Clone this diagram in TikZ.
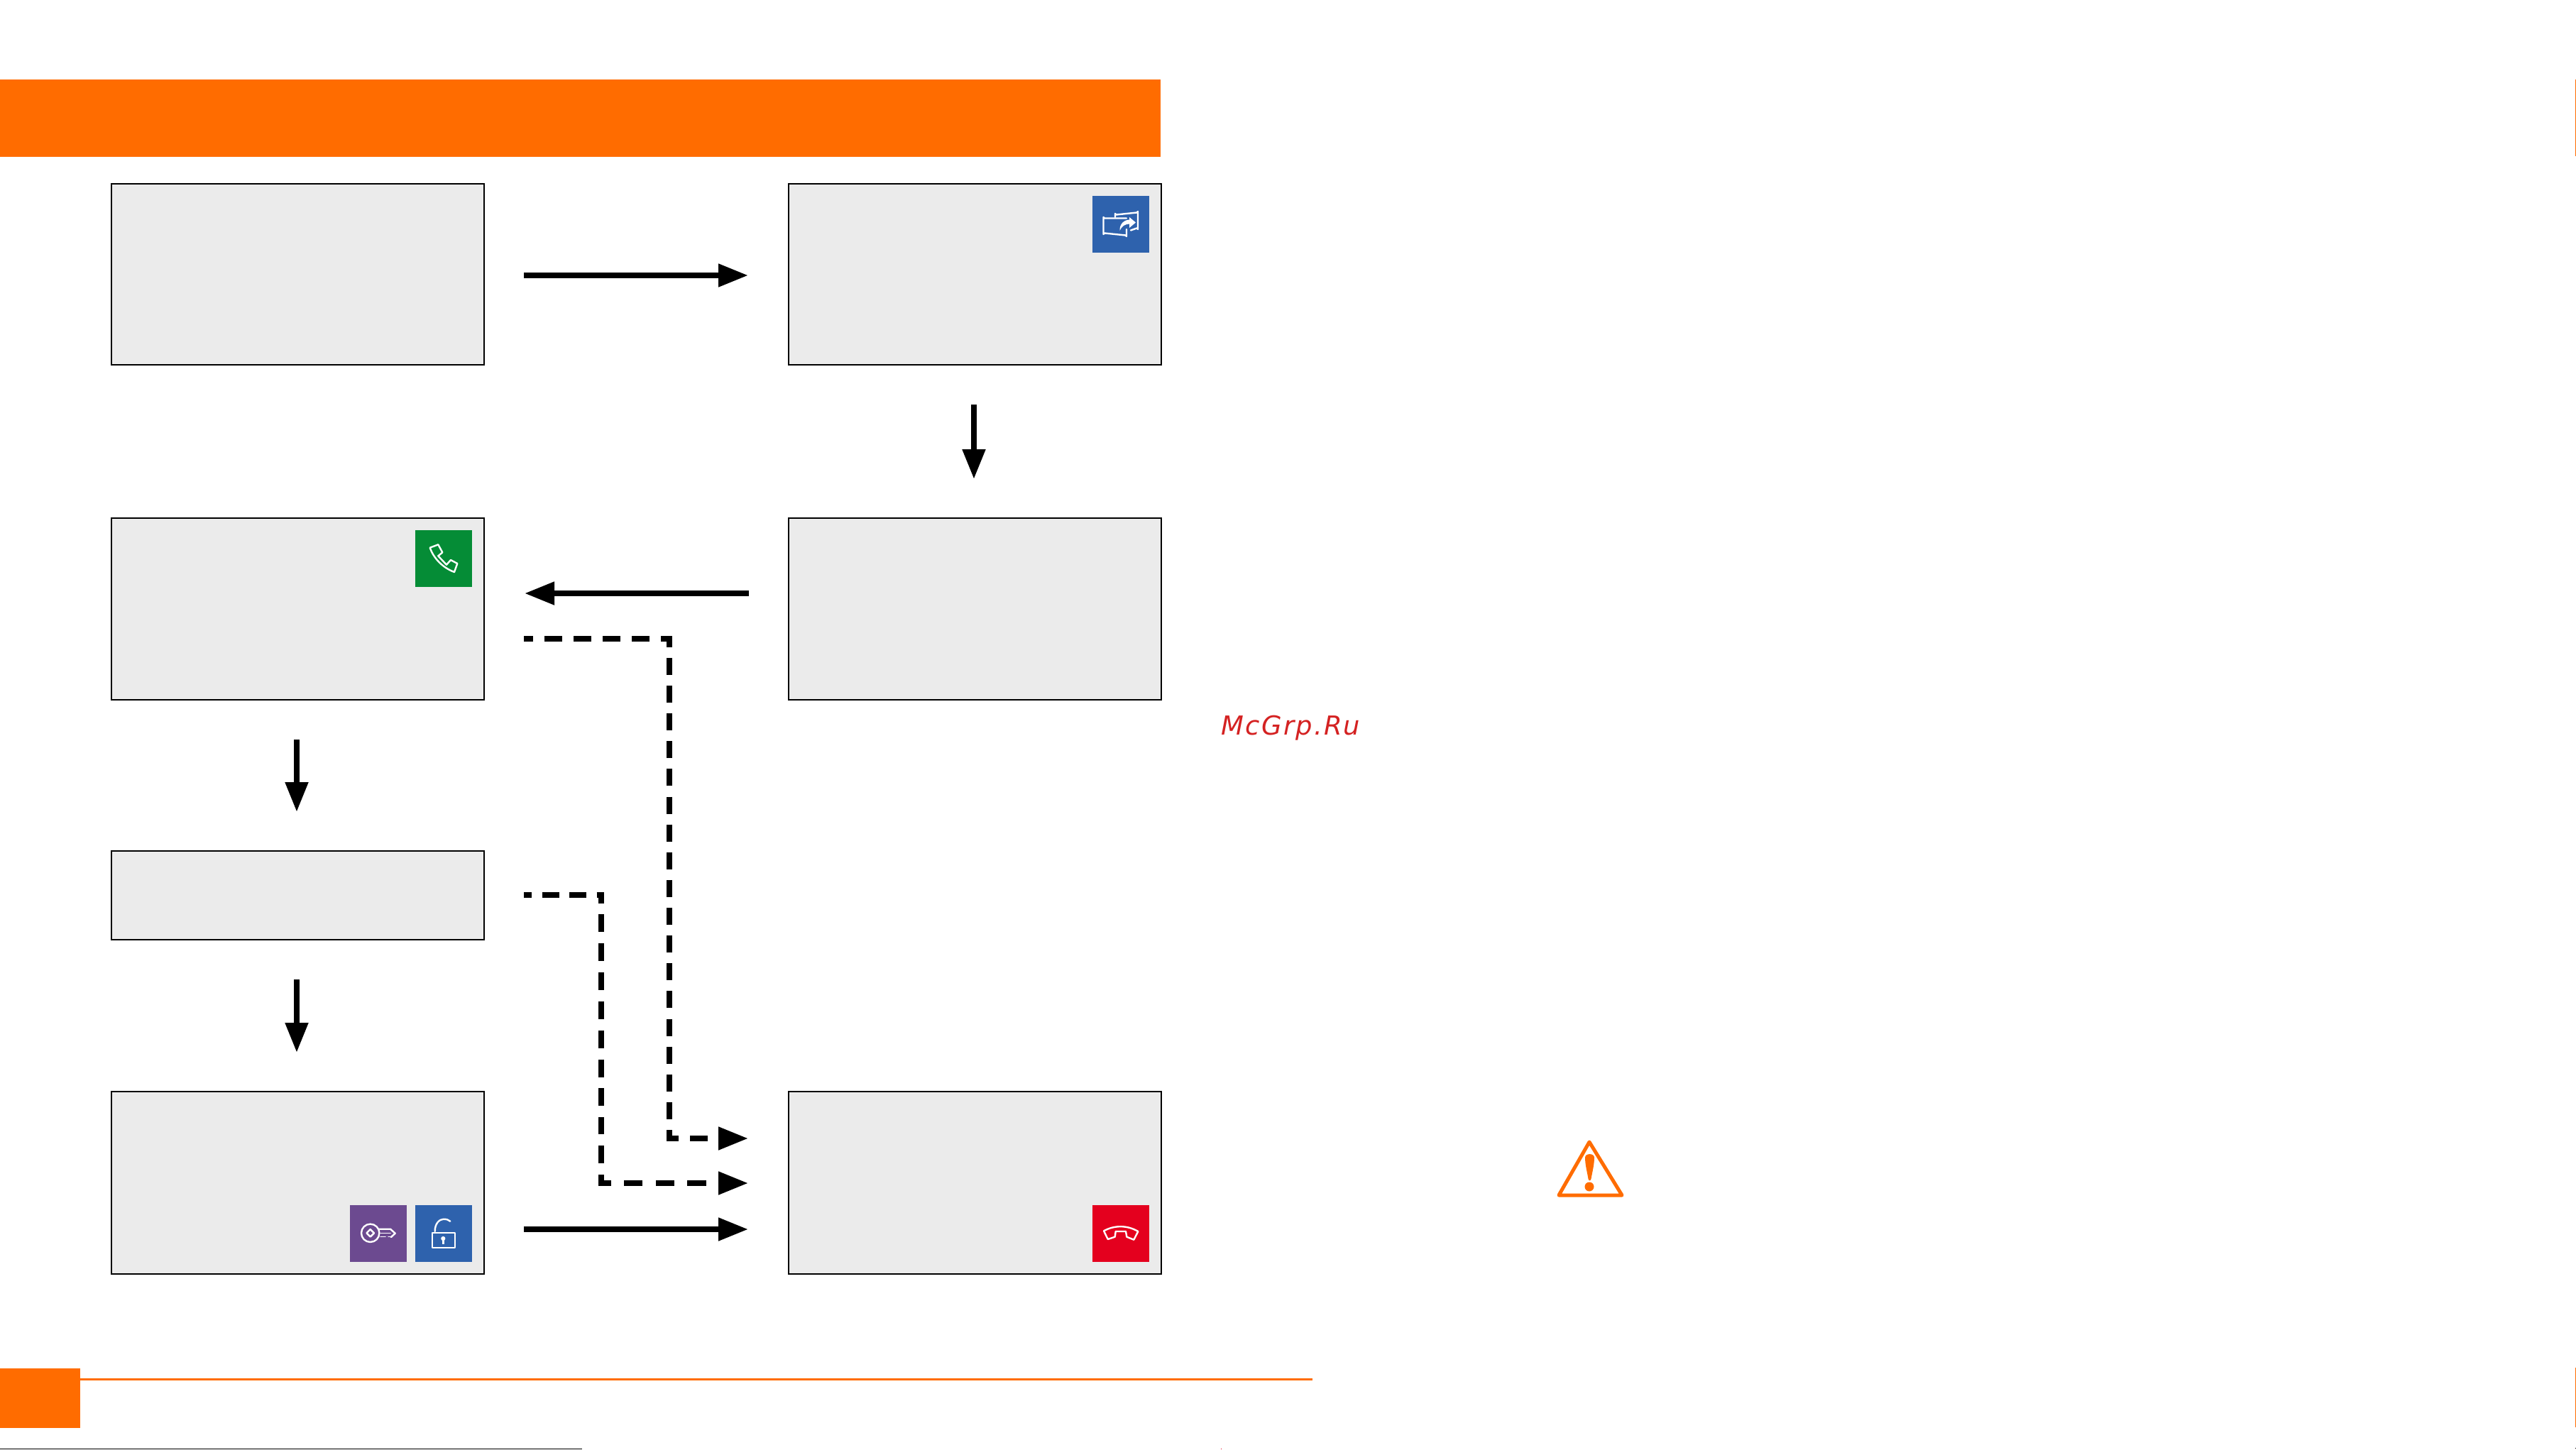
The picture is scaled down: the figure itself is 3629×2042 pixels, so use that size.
\documentclass[tikz,border=0pt]{standalone}
\usepackage{fontspec}
\usetikzlibrary{arrows.meta}
\newfontfamily\wmfont[LetterSpace=6]{DejaVu Sans}
\definecolor{hdr}{HTML}{FF6C00}
\definecolor{panel}{HTML}{EBEBEB}
\definecolor{iblue}{HTML}{2E62AD}
\definecolor{igreen}{HTML}{058C36}
\definecolor{ipurple}{HTML}{6C4A90}
\definecolor{ired}{HTML}{E4001E}
\definecolor{wm}{HTML}{D42222}
\tikzset{
  screen/.style={draw=black,line width=.2mm,fill=panel,inner sep=0,outer sep=0,minimum width=52.5mm},
  iconbox/.style={fill=#1,draw=none,inner sep=0,outer sep=0,minimum width=8mm,minimum height=8mm},
  glyph/.style={draw=white,line width=.24mm,line join=round,line cap=round},
  flow/.style={line width=.8mm,-{Triangle[length=4.2mm,width=3.1mm]},shorten <=5.6mm,shorten >=5.7mm},
  vflow/.style={line width=.8mm,-{Triangle[length=4.2mm,width=3.1mm]},shorten <=5.6mm,shorten >=5.5mm},
  warn/.style={draw=hdr,fill=none,line width=.5mm,line join=round},
  longdash/.style={dash pattern=on 1.3mm off 1.6mm on 2.5mm off 1.6mm on 2.5mm off 1.6mm on 2.5mm off 1.6mm on 2.5mm off 1.6mm on 2.4mm off 1.5mm
    on 2.4mm off 1.512mm on 2.4mm off 1.512mm on 2.4mm off 1.512mm on 2.4mm off 1.512mm on 2.4mm off 1.512mm on 2.4mm off 1.512mm
    on 2.4mm off 1.512mm on 2.4mm off 1.512mm on 2.4mm off 1.512mm on 2.4mm off 1.512mm on 2.4mm off 1.512mm on 2.4mm off 1.512mm
    on 2.4mm off 1.512mm on 2.4mm off 1.512mm on 2.4mm off 1.512mm on 2.4mm off 1.512mm on 2.4mm off 1.512mm
    on 2.5mm off 1.6mm on 2.5mm off 5mm},
  shortdash/.style={dash pattern=on 1.1mm off 1.45mm on 2.4mm off 1.45mm on 2.4mm off 1.45mm on 1.85mm off 1.5mm
    on 2.5mm off 1.59mm on 2.5mm off 1.59mm on 2.5mm off 1.59mm on 2.5mm off 1.59mm on 2.5mm off 1.59mm on 2.5mm off 1.59mm on 2.5mm off 1.59mm
    on 2.4mm off 1.6mm on 2.5mm off 1.6mm on 2.6mm off 1.8mm on 2.6mm off 1.9mm on 2.6mm off 1.8mm on 2.7mm off 5mm}
}
\begin{document}
\begin{tikzpicture}[x=.1mm,y=-.1mm]
\useasboundingbox (0,0) rectangle (3629,2042);
% page furniture
\fill[hdr] (0,112.5) rectangle (1635,220.5);
\fill[hdr] (0,1928) rectangle (113,2012);
\fill[hdr] (113,1942) rectangle (1849,1945);
\fill[hdr] (3628,112) rectangle (3629,220);
\fill[hdr] (3628,1927) rectangle (3629,2011);
\fill[black] (0,2041) rectangle (820,2042);
\fill[black] (3628,2040) rectangle (3629,2041);
\fill[ired] (1720,2041) rectangle (1721,2042);
% screens
\node[screen,minimum height=25.5mm] (A) at (419.5,386.5) {};
\node[screen,minimum height=25.5mm] (B) at (1373.5,386.5) {};
\node[screen,minimum height=25.6mm] (C) at (1373.5,858) {};
\node[screen,minimum height=25.6mm] (D) at (419.5,858) {};
\node[screen,minimum height=12.5mm] (E) at (419.5,1261.5) {};
\node[screen,minimum height=25.7mm] (F) at (419.5,1666.5) {};
\node[screen,minimum height=25.7mm] (G) at (1373.5,1666.5) {};
% connectors
\coordinate (bendA) at (943,900);
\coordinate (bendB) at (847,1261);
\draw[flow] (A.east |- 0,388) -- (B.west |- 0,388);
\draw[vflow] (1372,0 |- B.south) -- (1372,0 |- C.north);
\draw[flow] (C.west |- 0,836) -- (D.east |- 0,836);
\draw[vflow] (418,0 |- D.south) -- (418,0 |- E.north);
\draw[vflow] (418,0 |- E.south) -- (418,0 |- F.north);
\draw[flow] (F.east |- 0,1732) -- (G.west |- 0,1732);
\draw[flow,longdash] (D.east |- bendA) -- (bendA) |- (G.west |- 0,1604);
\draw[flow,shortdash] (E.east |- bendB) -- (bendB) |- (G.west |- 0,1667);
% icon: switch screen
\node[iconbox=iblue] (icoShare) at (1579,316) {};
\draw[glyph] (1571,306) -- (1571,301) arc[start angle=180,end angle=90,radius=1.5] -- (1601.5,299.5) arc[start angle=90,end angle=0,radius=1.5] -- (1603,323) arc[start angle=0,end angle=-90,radius=1.5] -- (1593,324.5);
\draw[glyph] (1587,307.5) -- (1556,307.5) arc[start angle=90,end angle=180,radius=1.5] -- (1554.5,330) arc[start angle=180,end angle=270,radius=1.5] -- (1585.5,331.5) arc[start angle=-90,end angle=0,radius=1.5] -- (1587,323);
\fill[white] (1600,313.5) -- (1591,306) -- (1591,309.5) .. controls (1583,310) and (1577,316) .. (1577.5,325) .. controls (1580,319) and (1585,315.5) .. (1591,315.5) -- (1591,321) -- cycle;
% icon: phone answer
\node[iconbox=igreen] (icoCall) at (625,787) {};
\draw[glyph] (605.7,771.7) -- (617.3,767.3) -- (623.3,778.3) -- (617.3,783.3) -- (629,795.7) -- (635,789) -- (644.3,794) -- (640,806) .. controls (624,800) and (611,787) .. (605.7,771.7) -- cycle;
% icon: key
\node[iconbox=ipurple] (icoKey) at (533,1737.5) {};
\draw[glyph] (521.7,1737.3) circle[radius=12.7];
\draw[glyph] (521.7,1732) -- (527,1737.3) -- (521.7,1742.6) -- (516.4,1737.3) -- cycle;
\draw[glyph] (534,1731.7) -- (550,1731.7) -- (556.7,1737.7) -- (551,1743);
\draw[glyph,line width=.15mm] (536,1737.3) -- (550,1737.3);
\draw[glyph,line width=.15mm] (536,1742.7) -- (543,1742.7) (547,1742.7) -- (551,1742.7);
% icon: unlock
\node[iconbox=iblue] (icoLock) at (625,1737.5) {};
\draw[glyph,line cap=butt] (608.7,1736.7) rectangle (641,1757.7);
\draw[glyph] (612.7,1735) .. controls (612.5,1724) and (619,1717.7) .. (625,1717.7) .. controls (629,1717.7) and (632,1718.7) .. (634.3,1720.7);
\fill[white] (624.3,1745) circle[radius=3.1];
\draw[glyph,line cap=butt] (624.3,1745) -- (624.3,1753);
% icon: hang up
\node[iconbox=ired] (icoEnd) at (1579,1738) {};
\draw[glyph] (1555,1734.3) .. controls (1570,1726) and (1588,1726) .. (1603.3,1735) -- (1597.3,1746.7) -- (1587.3,1742.7) -- (1586,1735) -- (1571.7,1735) -- (1570.7,1742.7) -- (1560.7,1746) -- cycle;
% watermark
\node[anchor=base west,inner sep=0,text=wm] (mark) at (1720,1035) {\wmfont\itshape\fontsize{10.5pt}{12pt}\selectfont McGrp.Ru};
% warning sign
\draw[warn] (2239,1609) -- (2285,1684) -- (2196,1684) -- cycle;
\fill[hdr] (2233,1631) .. controls (2233,1624.5) and (2246,1624.5) .. (2246,1631) .. controls (2246,1641) and (2243,1652) .. (2241.5,1661) .. controls (2241,1664) and (2238,1664) .. (2237.5,1661) .. controls (2236,1652) and (2233,1641) .. (2233,1631) -- cycle;
\fill[hdr] (2239,1672) circle[radius=6.5];
\end{tikzpicture}
\end{document}
